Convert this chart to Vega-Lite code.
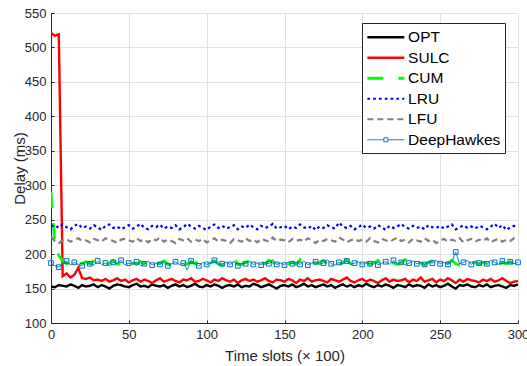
{
  "$schema": "https://vega.github.io/schema/vega-lite/v6.json",
  "width": 467,
  "height": 310,
  "autosize": "none",
  "padding": {"left": 51, "top": 13, "right": 9, "bottom": 43},
  "background": "white",
  "config": {
    "font": "Liberation Sans",
    "view": {"stroke": null},
    "axis": {
      "gridColor": "#e1e1e1",
      "gridWidth": 1,
      "domainColor": "#262626",
      "domainWidth": 1,
      "tickColor": "#262626",
      "tickSize": -3,
      "labelPadding": 8,
      "labelColor": "#262626",
      "labelFontSize": 13,
      "labelFont": "Liberation Sans",
      "titleFont": "Liberation Sans",
      "titleColor": "#262626",
      "titleFontSize": 15,
      "titleFontWeight": "normal",
      "labelFlush": false,
      "labelOverlap": false
    }
  },
  "data": {"values": [
    {"t":0,"OPT":153,"SULC":521,"CUM":290,"LRU":240,"LFU":225,"DeepHawkes":187},
    {"t":2.5,"OPT":152,"SULC":517,"CUM":215,"LRU":242,"LFU":219,"DeepHawkes":183},
    {"t":5,"OPT":155,"SULC":519,"CUM":198,"LRU":238,"LFU":216,"DeepHawkes":181},
    {"t":7.5,"OPT":154,"SULC":168,"CUM":190,"LRU":243,"LFU":220,"DeepHawkes":186},
    {"t":10,"OPT":153,"SULC":172,"CUM":186,"LRU":239,"LFU":222,"DeepHawkes":190},
    {"t":12.5,"OPT":156,"SULC":166,"CUM":188,"LRU":236,"LFU":218,"DeepHawkes":184},
    {"t":15,"OPT":154,"SULC":170,"CUM":192,"LRU":241,"LFU":221,"DeepHawkes":188},
    {"t":17.5,"OPT":151,"SULC":180,"CUM":185,"LRU":244,"LFU":223,"DeepHawkes":185},
    {"t":20,"OPT":155,"SULC":165,"CUM":187,"LRU":238,"LFU":219,"DeepHawkes":183},
    {"t":22.5,"OPT":153,"SULC":164,"CUM":189,"LRU":240,"LFU":220,"DeepHawkes":189},
    {"t":25,"OPT":154,"SULC":166,"CUM":186,"LRU":237,"LFU":217,"DeepHawkes":186},
    {"t":27.5,"OPT":156,"SULC":162,"CUM":190,"LRU":242,"LFU":222,"DeepHawkes":184},
    {"t":30,"OPT":152,"SULC":163,"CUM":194,"LRU":239,"LFU":220,"DeepHawkes":190},
    {"t":32.5,"OPT":155,"SULC":161,"CUM":188,"LRU":235,"LFU":218,"DeepHawkes":185},
    {"t":35,"OPT":153,"SULC":164,"CUM":185,"LRU":241,"LFU":223,"DeepHawkes":187},
    {"t":37.5,"OPT":150,"SULC":160,"CUM":187,"LRU":243,"LFU":221,"DeepHawkes":183},
    {"t":40,"OPT":154,"SULC":162,"CUM":191,"LRU":238,"LFU":219,"DeepHawkes":188},
    {"t":42.5,"OPT":156,"SULC":165,"CUM":186,"LRU":240,"LFU":216,"DeepHawkes":186},
    {"t":45,"OPT":155,"SULC":161,"CUM":184,"LRU":236,"LFU":221,"DeepHawkes":191},
    {"t":47.5,"OPT":153,"SULC":163,"CUM":188,"LRU":239,"LFU":222,"DeepHawkes":184},
    {"t":50,"OPT":152,"SULC":159,"CUM":192,"LRU":242,"LFU":220,"DeepHawkes":187},
    {"t":52.5,"OPT":155,"SULC":162,"CUM":187,"LRU":237,"LFU":218,"DeepHawkes":185},
    {"t":55,"OPT":157,"SULC":164,"CUM":185,"LRU":240,"LFU":223,"DeepHawkes":189},
    {"t":57.5,"OPT":153,"SULC":160,"CUM":189,"LRU":244,"LFU":219,"DeepHawkes":183},
    {"t":60,"OPT":154,"SULC":163,"CUM":186,"LRU":238,"LFU":221,"DeepHawkes":186},
    {"t":62.5,"OPT":152,"SULC":161,"CUM":193,"LRU":236,"LFU":217,"DeepHawkes":190},
    {"t":65,"OPT":156,"SULC":158,"CUM":188,"LRU":241,"LFU":222,"DeepHawkes":184},
    {"t":67.5,"OPT":154,"SULC":162,"CUM":185,"LRU":239,"LFU":220,"DeepHawkes":187},
    {"t":70,"OPT":153,"SULC":165,"CUM":187,"LRU":243,"LFU":224,"DeepHawkes":185},
    {"t":72.5,"OPT":155,"SULC":160,"CUM":190,"LRU":237,"LFU":218,"DeepHawkes":188},
    {"t":75,"OPT":151,"SULC":162,"CUM":186,"LRU":240,"LFU":221,"DeepHawkes":183},
    {"t":77.5,"OPT":154,"SULC":164,"CUM":184,"LRU":238,"LFU":219,"DeepHawkes":186},
    {"t":80,"OPT":156,"SULC":161,"CUM":188,"LRU":242,"LFU":216,"DeepHawkes":189},
    {"t":82.5,"OPT":153,"SULC":159,"CUM":191,"LRU":236,"LFU":222,"DeepHawkes":185},
    {"t":85,"OPT":155,"SULC":163,"CUM":187,"LRU":239,"LFU":220,"DeepHawkes":187},
    {"t":87.5,"OPT":152,"SULC":162,"CUM":185,"LRU":244,"LFU":223,"DeepHawkes":177},
    {"t":90,"OPT":154,"SULC":165,"CUM":189,"LRU":240,"LFU":218,"DeepHawkes":190},
    {"t":92.5,"OPT":157,"SULC":160,"CUM":186,"LRU":237,"LFU":221,"DeepHawkes":186},
    {"t":95,"OPT":153,"SULC":161,"CUM":192,"LRU":241,"LFU":219,"DeepHawkes":183},
    {"t":97.5,"OPT":152,"SULC":164,"CUM":188,"LRU":238,"LFU":222,"DeepHawkes":188},
    {"t":100,"OPT":155,"SULC":162,"CUM":185,"LRU":235,"LFU":217,"DeepHawkes":185},
    {"t":102.5,"OPT":153,"SULC":159,"CUM":187,"LRU":240,"LFU":220,"DeepHawkes":187},
    {"t":105,"OPT":156,"SULC":163,"CUM":190,"LRU":243,"LFU":223,"DeepHawkes":191},
    {"t":107.5,"OPT":154,"SULC":161,"CUM":186,"LRU":238,"LFU":218,"DeepHawkes":184},
    {"t":110,"OPT":151,"SULC":165,"CUM":184,"LRU":241,"LFU":221,"DeepHawkes":186},
    {"t":112.5,"OPT":154,"SULC":162,"CUM":189,"LRU":237,"LFU":219,"DeepHawkes":188},
    {"t":115,"OPT":155,"SULC":160,"CUM":187,"LRU":239,"LFU":216,"DeepHawkes":185},
    {"t":117.5,"OPT":153,"SULC":163,"CUM":193,"LRU":242,"LFU":222,"DeepHawkes":189},
    {"t":120,"OPT":156,"SULC":158,"CUM":186,"LRU":236,"LFU":220,"DeepHawkes":183},
    {"t":122.5,"OPT":152,"SULC":162,"CUM":185,"LRU":240,"LFU":218,"DeepHawkes":187},
    {"t":125,"OPT":154,"SULC":164,"CUM":188,"LRU":238,"LFU":223,"DeepHawkes":186},
    {"t":127.5,"OPT":153,"SULC":161,"CUM":190,"LRU":243,"LFU":219,"DeepHawkes":190},
    {"t":130,"OPT":157,"SULC":163,"CUM":187,"LRU":239,"LFU":221,"DeepHawkes":185},
    {"t":132.5,"OPT":155,"SULC":160,"CUM":185,"LRU":236,"LFU":217,"DeepHawkes":187},
    {"t":135,"OPT":152,"SULC":162,"CUM":189,"LRU":241,"LFU":222,"DeepHawkes":184},
    {"t":137.5,"OPT":154,"SULC":165,"CUM":186,"LRU":238,"LFU":220,"DeepHawkes":188},
    {"t":140,"OPT":156,"SULC":161,"CUM":191,"LRU":240,"LFU":218,"DeepHawkes":186},
    {"t":142.5,"OPT":153,"SULC":159,"CUM":188,"LRU":244,"LFU":224,"DeepHawkes":192},
    {"t":145,"OPT":150,"SULC":163,"CUM":184,"LRU":237,"LFU":219,"DeepHawkes":185},
    {"t":147.5,"OPT":154,"SULC":162,"CUM":187,"LRU":239,"LFU":221,"DeepHawkes":187},
    {"t":150,"OPT":155,"SULC":160,"CUM":190,"LRU":241,"LFU":220,"DeepHawkes":184},
    {"t":152.5,"OPT":153,"SULC":164,"CUM":186,"LRU":236,"LFU":217,"DeepHawkes":189},
    {"t":155,"OPT":156,"SULC":162,"CUM":188,"LRU":240,"LFU":222,"DeepHawkes":186},
    {"t":157.5,"OPT":152,"SULC":158,"CUM":185,"LRU":238,"LFU":219,"DeepHawkes":188},
    {"t":160,"OPT":154,"SULC":163,"CUM":192,"LRU":243,"LFU":221,"DeepHawkes":185},
    {"t":162.5,"OPT":157,"SULC":161,"CUM":187,"LRU":239,"LFU":218,"DeepHawkes":190},
    {"t":165,"OPT":153,"SULC":165,"CUM":185,"LRU":237,"LFU":223,"DeepHawkes":184},
    {"t":167.5,"OPT":155,"SULC":160,"CUM":189,"LRU":241,"LFU":220,"DeepHawkes":187},
    {"t":170,"OPT":152,"SULC":162,"CUM":186,"LRU":235,"LFU":216,"DeepHawkes":189},
    {"t":172.5,"OPT":154,"SULC":163,"CUM":188,"LRU":240,"LFU":221,"DeepHawkes":185},
    {"t":175,"OPT":156,"SULC":161,"CUM":191,"LRU":238,"LFU":219,"DeepHawkes":187},
    {"t":177.5,"OPT":153,"SULC":159,"CUM":185,"LRU":242,"LFU":222,"DeepHawkes":192},
    {"t":180,"OPT":155,"SULC":164,"CUM":187,"LRU":239,"LFU":220,"DeepHawkes":186},
    {"t":182.5,"OPT":151,"SULC":162,"CUM":189,"LRU":237,"LFU":218,"DeepHawkes":184},
    {"t":185,"OPT":154,"SULC":160,"CUM":184,"LRU":246,"LFU":224,"DeepHawkes":188},
    {"t":187.5,"OPT":156,"SULC":163,"CUM":188,"LRU":240,"LFU":221,"DeepHawkes":186},
    {"t":190,"OPT":153,"SULC":166,"CUM":192,"LRU":238,"LFU":217,"DeepHawkes":190},
    {"t":192.5,"OPT":155,"SULC":161,"CUM":186,"LRU":241,"LFU":220,"DeepHawkes":185},
    {"t":195,"OPT":152,"SULC":159,"CUM":185,"LRU":236,"LFU":222,"DeepHawkes":187},
    {"t":197.5,"OPT":155,"SULC":162,"CUM":187,"LRU":239,"LFU":219,"DeepHawkes":189},
    {"t":200,"OPT":153,"SULC":164,"CUM":190,"LRU":243,"LFU":221,"DeepHawkes":185},
    {"t":202.5,"OPT":157,"SULC":160,"CUM":188,"LRU":238,"LFU":218,"DeepHawkes":188},
    {"t":205,"OPT":154,"SULC":163,"CUM":185,"LRU":240,"LFU":223,"DeepHawkes":186},
    {"t":207.5,"OPT":152,"SULC":161,"CUM":187,"LRU":237,"LFU":219,"DeepHawkes":190},
    {"t":210,"OPT":155,"SULC":158,"CUM":191,"LRU":242,"LFU":217,"DeepHawkes":184},
    {"t":212.5,"OPT":153,"SULC":162,"CUM":186,"LRU":239,"LFU":222,"DeepHawkes":187},
    {"t":215,"OPT":156,"SULC":165,"CUM":184,"LRU":235,"LFU":220,"DeepHawkes":189},
    {"t":217.5,"OPT":154,"SULC":160,"CUM":189,"LRU":241,"LFU":218,"DeepHawkes":185},
    {"t":220,"OPT":151,"SULC":163,"CUM":187,"LRU":238,"LFU":221,"DeepHawkes":191},
    {"t":222.5,"OPT":155,"SULC":161,"CUM":185,"LRU":240,"LFU":224,"DeepHawkes":186},
    {"t":225,"OPT":154,"SULC":162,"CUM":188,"LRU":244,"LFU":219,"DeepHawkes":188},
    {"t":227.5,"OPT":152,"SULC":164,"CUM":192,"LRU":239,"LFU":221,"DeepHawkes":184},
    {"t":230,"OPT":156,"SULC":159,"CUM":186,"LRU":237,"LFU":217,"DeepHawkes":187},
    {"t":232.5,"OPT":153,"SULC":163,"CUM":185,"LRU":241,"LFU":222,"DeepHawkes":190},
    {"t":235,"OPT":155,"SULC":161,"CUM":189,"LRU":238,"LFU":220,"DeepHawkes":186},
    {"t":237.5,"OPT":154,"SULC":166,"CUM":187,"LRU":240,"LFU":218,"DeepHawkes":188},
    {"t":240,"OPT":151,"SULC":160,"CUM":184,"LRU":236,"LFU":223,"DeepHawkes":185},
    {"t":242.5,"OPT":156,"SULC":162,"CUM":188,"LRU":242,"LFU":219,"DeepHawkes":189},
    {"t":245,"OPT":153,"SULC":164,"CUM":190,"LRU":239,"LFU":221,"DeepHawkes":187},
    {"t":247.5,"OPT":155,"SULC":159,"CUM":186,"LRU":238,"LFU":216,"DeepHawkes":191},
    {"t":250,"OPT":152,"SULC":163,"CUM":185,"LRU":241,"LFU":220,"DeepHawkes":186},
    {"t":252.5,"OPT":154,"SULC":161,"CUM":189,"LRU":237,"LFU":222,"DeepHawkes":188},
    {"t":255,"OPT":157,"SULC":165,"CUM":187,"LRU":240,"LFU":218,"DeepHawkes":185},
    {"t":257.5,"OPT":153,"SULC":162,"CUM":191,"LRU":243,"LFU":221,"DeepHawkes":189},
    {"t":260,"OPT":150,"SULC":158,"CUM":186,"LRU":236,"LFU":219,"DeepHawkes":203},
    {"t":262.5,"OPT":155,"SULC":163,"CUM":184,"LRU":239,"LFU":223,"DeepHawkes":186},
    {"t":265,"OPT":154,"SULC":160,"CUM":188,"LRU":242,"LFU":217,"DeepHawkes":188},
    {"t":267.5,"OPT":156,"SULC":164,"CUM":186,"LRU":238,"LFU":220,"DeepHawkes":191},
    {"t":270,"OPT":153,"SULC":162,"CUM":190,"LRU":240,"LFU":222,"DeepHawkes":185},
    {"t":272.5,"OPT":152,"SULC":161,"CUM":187,"LRU":237,"LFU":218,"DeepHawkes":190},
    {"t":275,"OPT":155,"SULC":159,"CUM":185,"LRU":241,"LFU":221,"DeepHawkes":187},
    {"t":277.5,"OPT":153,"SULC":163,"CUM":188,"LRU":239,"LFU":219,"DeepHawkes":189},
    {"t":280,"OPT":156,"SULC":161,"CUM":186,"LRU":236,"LFU":223,"DeepHawkes":186},
    {"t":282.5,"OPT":152,"SULC":164,"CUM":191,"LRU":240,"LFU":217,"DeepHawkes":191},
    {"t":285,"OPT":154,"SULC":160,"CUM":187,"LRU":244,"LFU":220,"DeepHawkes":188},
    {"t":287.5,"OPT":155,"SULC":162,"CUM":184,"LRU":238,"LFU":222,"DeepHawkes":185},
    {"t":290,"OPT":153,"SULC":165,"CUM":188,"LRU":242,"LFU":218,"DeepHawkes":190},
    {"t":292.5,"OPT":151,"SULC":161,"CUM":186,"LRU":235,"LFU":221,"DeepHawkes":187},
    {"t":295,"OPT":155,"SULC":158,"CUM":189,"LRU":239,"LFU":219,"DeepHawkes":189},
    {"t":297.5,"OPT":154,"SULC":160,"CUM":185,"LRU":241,"LFU":223,"DeepHawkes":186},
    {"t":300,"OPT":156,"SULC":161,"CUM":187,"LRU":240,"LFU":220,"DeepHawkes":188}
  ]},
  "transform": [
    {"fold": ["OPT", "SULC", "CUM", "LRU", "LFU", "DeepHawkes"], "as": ["series", "delay"]}
  ],
  "encoding": {
    "x": {
      "field": "t", "type": "quantitative",
      "scale": {"domain": [0, 300], "nice": false},
      "axis": {"title": "Time slots (× 100)", "values": [0, 50, 100, 150, 200, 250, 300], "grid": true, "titleY": 37, "titleBaseline": "alphabetic"}
    },
    "y": {
      "field": "delay", "type": "quantitative",
      "scale": {"domain": [100, 550], "nice": false},
      "axis": {"title": "Delay (ms)", "values": [100, 150, 200, 250, 300, 350, 400, 450, 500, 550], "grid": true, "titleX": -27, "titleBaseline": "alphabetic", "titleAngle": 270}
    }
  },
  "layer": [
    {
      "mark": {"type": "line", "clip": true},
      "encoding": {
        "color": {
          "field": "series", "type": "nominal",
          "scale": {"domain": ["OPT", "SULC", "CUM", "LRU", "LFU", "DeepHawkes"], "range": ["#000000", "#ff0000", "#00ff00", "#0000ff", "#808080", "#0072bd"]},
          "legend": {
            "title": " ",
            "titleFontSize": 1,
            "titlePadding": 1.5,
            "orient": "none",
            "legendX": 311,
            "legendY": 10,
            "fillColor": "white",
            "strokeColor": "#262626",
            "padding": 4,
            "columnPadding": 0,
            "symbolType": "M-1,0H6.4",
            "symbolSize": 100,
            "symbolOffset": -1.4,
            "symbolFillColor": "transparent",
            "labelFontSize": 15.5,
            "labelFont": "Liberation Sans",
            "labelColor": "#000000",
            "labelOffset": 28,
            "rowPadding": 3.5,
            "encode": {
              "symbols": {
                "update": {
                  "shape": {"signal": "datum.value === 'DeepHawkes' ? 'M-1,0H2.3M3.1,0H6.4M2.3,-0.4H3.1V0.4H2.3Z' : 'M-1,0H6.4'"}
                }
              }
            }
          }
        },
        "strokeDash": {
          "field": "series", "type": "nominal",
          "scale": {"domain": ["OPT", "SULC", "CUM", "LRU", "LFU", "DeepHawkes"], "range": [[1, 0], [1, 0], [16, 15], [2.7, 3.1], [6, 4], [1, 0]]},
          "legend": {"title": " "}
        },
        "strokeWidth": {
          "field": "series", "type": "nominal",
          "scale": {"type": "ordinal", "domain": ["OPT", "SULC", "CUM", "LRU", "LFU", "DeepHawkes"], "range": [2.4, 2.4, 2.8, 2.2, 2.2, 1]},
          "legend": {"title": " "}
        }
      }
    },
    {
      "transform": [{"filter": "datum.series === 'DeepHawkes' && datum.t % 5 === 0"}],
      "mark": {"type": "point", "shape": "square", "filled": false, "size": 22, "color": "#0072bd", "strokeWidth": 1, "opacity": 1},
      "encoding": {}
    }
  ]
}
